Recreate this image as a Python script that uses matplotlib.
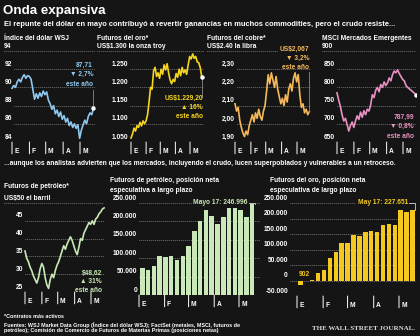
import numpy as np
import matplotlib
matplotlib.use("Agg")
import matplotlib.pyplot as plt

plt.rcParams.update({"font.family": ["Liberation Sans", "DejaVu Sans"],
                     "font.weight": "bold", "axes.unicode_minus": False})

W, H = 420, 336
BG = "#151515"
GRID = "#b5b5b5"
END_DAY = 145
MONTH_DAYS = [0, 31, 60, 91, 121]
MONTHS = ["E", "F", "M", "A", "M"]
FS = 4.8

# --- series ---
dollar = [89.9, 90.2, 90.0, 90.6, 90.9, 90.6, 91.1, 91.4, 91.0, 91.3, 91.2, 90.9,
          89.8, 88.7, 89.3, 88.8, 89.4, 89.0, 89.6, 89.2,
          89.5, 88.6, 88.2, 87.6, 88.0, 87.1, 87.5, 86.8, 87.3, 86.5,
          86.9, 86.2, 86.6, 85.8, 86.2, 85.6, 86.0, 85.5, 85.9, 84.4,
          85.3, 85.9, 86.4, 86.0, 86.8, 87.2, 87.0, 87.71]
gold = [1061, 1072, 1088, 1080, 1095, 1090, 1104, 1094, 1108, 1100, 1108, 1125,
        1160, 1200, 1195, 1245, 1255, 1230, 1240, 1225,
        1250, 1236, 1262, 1248, 1265, 1240, 1220, 1210, 1222, 1216,
        1238, 1228, 1250, 1232, 1255, 1240, 1248, 1236, 1262, 1285,
        1278, 1292, 1280, 1285, 1270, 1268, 1255, 1229.2]
copper = [2.11, 2.07, 2.09, 2.02, 1.98, 1.95, 1.93, 1.96, 1.94, 1.99, 2.02, 2.05,
          2.01, 2.06, 2.03, 2.08, 2.04, 2.02, 2.07, 2.10,
          2.18, 2.27, 2.22, 2.28, 2.24, 2.20, 2.26, 2.19, 2.15, 2.11,
          2.14, 2.10, 2.16, 2.12, 2.19, 2.22, 2.18, 2.25, 2.28, 2.23,
          2.27, 2.16, 2.09, 2.11, 2.06, 2.08, 2.05, 2.067]
msci = [785, 765, 748, 725, 708, 715, 698, 680, 695, 705, 690, 708,
        722, 712, 732, 718, 736, 725, 740, 735,
        752, 780, 772, 792, 800, 788, 808, 800, 815, 805,
        812, 826, 818, 835, 845, 840, 848, 838, 830, 822,
        818, 805, 800, 796, 792, 788, 784, 780]
oil = [36.5, 34.5, 33.5, 32.0, 31.0, 29.5, 28.5, 27.5, 29.0, 31.5, 33.0, 32.0,
       29.0, 27.0, 26.0, 28.5, 30.0, 29.0, 31.0, 32.5,
       33.5, 35.0, 36.5, 38.0, 37.0, 38.5, 39.5, 40.5, 39.5, 38.0,
       36.5, 35.5, 37.5, 40.0, 39.5, 41.5, 42.5, 43.5, 44.5, 44.0,
       45.0, 44.0, 45.5, 46.0, 47.0, 47.5, 48.3, 48.62]

week_days = [4 + 7 * i for i in range(20)]  # Jan 5 ... May 17
oil_pos = [74500, 68000, 79000, 107000, 103000, 107000, 96000, 107000, 132000, 173000,
           200000, 230000, 216000, 193000, 212000, 241000, 244000, 232000, 212000, 246996]
gold_pos = [-14000, -3000, 902, 24000, 35000, 73000, 92000, 120000, 121000, 146000,
            143000, 158000, 161000, 158000, 180000, 183000, 180000, 228000, 222000, 227651]

fig = plt.figure(figsize=(W / 100, H / 100), dpi=100, facecolor=BG)


def ftext(x, y, s, **kw):
    kw.setdefault("color", "white")
    kw.setdefault("fontsize", FS)
    kw.setdefault("va", "center")
    return fig.text(x / W, 1 - y / H, s, **kw)


def panel(L, R, ytop, ybot, vmin, vmax, xE, xM):
    ax = fig.add_axes([L / W, 1 - ybot / H, (R - L) / W, (ybot - ytop) / H])
    s = (xM - xE) / 121
    ax.set_xlim((L - xE) / s, (R - xE) / s)
    ax.set_ylim(vmin, vmax)
    ax.axis("off")
    ax.patch.set_alpha(0)
    return ax, s


def grid_and_labels(ax, s, L, xE, label_right, vals, labels, top_label):
    x_left, x_right = ax.get_xlim()
    x_lab = (label_right + 2 - xE) / s
    for i, (v, lab) in enumerate(zip(vals, labels)):
        top = i == len(vals) - 1
        ax.hlines(v, x_left if top else x_lab, x_right, color=GRID, lw=0.6,
                  linestyles=(0, (0.8, 1.6)))
        if top:
            continue
        ax.annotate(lab, xy=((label_right - xE) / s, v), xytext=(0, 1.0),
                    textcoords="offset points", ha="right", va="bottom",
                    color="white", fontsize=FS, annotation_clip=False)
    ax.annotate(top_label, xy=((L - xE) / s, vals[-1]), xytext=(0, 1.0),
                textcoords="offset points", ha="left", va="bottom", color="white",
                fontsize=FS, annotation_clip=False,
                bbox=dict(boxstyle="square,pad=0.25", fc=BG, ec="none"))


def months(ax, vmin):
    for d, m in zip(MONTH_DAYS, MONTHS):
        ax.annotate("", xy=(d, vmin), xytext=(0, -8.5), textcoords="offset points",
                    arrowprops=dict(arrowstyle="-", color="white", lw=0.7,
                                    shrinkA=0, shrinkB=0), annotation_clip=False)
        ax.annotate(m, xy=(d, vmin), xytext=(1.6, -6.9), textcoords="offset points",
                    ha="left", va="center", color="white", fontsize=FS,
                    annotation_clip=False)


def line_panel(vals, color, L, R, ytop, ybot, ticks, labels, top_label, xE, xM, label_right):
    ax, s = panel(L, R, ytop, ybot, ticks[0], ticks[-1], xE, xM)
    grid_and_labels(ax, s, L, xE, label_right, ticks, labels, top_label)
    days = np.linspace(0, END_DAY, len(vals))
    ax.plot(days, vals, color=color, lw=1.2, solid_joinstyle="round", clip_on=False)
    months(ax, ticks[0])
    return ax, days


# ---------- titles ----------
ftext(3, 11, "Onda expansiva", fontsize=9.6)
ftext(4, 24.5, "El repunte del dólar en mayo contribuyó a revertir ganancias en muchos "
      "commodities, pero el crudo resiste...", fontsize=5.45)

# ---------- top row ----------
TOP, BOT = 51, 142

ftext(4, 38, "Índice del dólar WSJ")
ax, days = line_panel(dollar, "#8ec9ef", 4, 95, TOP, BOT, [84, 86, 88, 90, 92, 94],
                      ["84", "86", "88", "90", "92", "94"], "94", 12, 80, 12)
ax.plot([days[-1]] * 2, [dollar[-1], 89.7], color="#8a8a8a", lw=0.6)
ax.plot(days[-1], dollar[-1], "o", ms=2.2, color="white", zorder=5)
ftext(93, 65, "87,71", color="#8ec9ef", ha="right")
ftext(93, 74.5, "▼ 2,7%", color="#8ec9ef", ha="right")
ftext(93, 84, "este año", color="#8ec9ef", ha="right")

ftext(97, 38, "Futuros del oro*")
ax, days = line_panel(gold, "#f7d51d", 97, 204, TOP, BOT,
                      [1050, 1100, 1150, 1200, 1250, 1300],
                      ["1.050", "1.100", "1.150", "1.200", "1.250", "1.300"],
                      "US$1.300 la onza troy", 131, 190, 128)
ax.plot([days[-1]] * 2, [gold[-1], 1175], color="#8a8a8a", lw=0.6)
ax.plot(days[-1], gold[-1], "o", ms=2.2, color="white", zorder=5)
ftext(203, 98, "US$1.229,20", color="#f7d51d", ha="right")
ftext(203, 107.5, "▲ 16%", color="#f7d51d", ha="right")
ftext(203, 117, "este año", color="#f7d51d", ha="right")

ftext(207, 38, "Futuros del cobre*")
ax, days = line_panel(copper, "#f5b95c", 207, 311, TOP, BOT,
                      [1.9, 2.0, 2.1, 2.2, 2.3, 2.4],
                      ["1,90", "2,00", "2,10", "2,20", "2,30", "2,40"],
                      "US$2.40 la libra", 235, 297, 235)
ax.plot([days[-1]] * 2, [copper[-1], 2.285], color="#8a8a8a", lw=0.6)
ftext(309, 49, "US$2,067", color="#f5b95c", ha="right",
      bbox=dict(boxstyle="square,pad=0.25", fc=BG, ec="none"))
ftext(309, 58, "▼ 3,2%", color="#f5b95c", ha="right")
ftext(309, 67.5, "este año", color="#f5b95c", ha="right")

ftext(322, 38, "MSCI Mercados Emergentes")
ax, days = line_panel(msci, "#e891c2", 322, 416, TOP, BOT,
                      [650, 700, 750, 800, 850, 900],
                      ["650", "700", "750", "800", "850", "900"], "900", 337, 403, 335)
ax.plot([days[-1]] * 2, [msci[-1], 730], color="#8a8a8a", lw=0.6)
ax.plot(days[-1], msci[-1], "o", ms=2.2, color="white", zorder=5)
ftext(414, 117, "787,99", color="#e891c2", ha="right")
ftext(414, 126.5, "▼ 0,8%", color="#e891c2", ha="right")
ftext(414, 136, "este año", color="#e891c2", ha="right")

ftext(4, 163, "...aunque los analistas advierten que los mercados, incluyendo el crudo, "
      "lucen superpoblados y vulnerables a un retroceso.", fontsize=4.8)

# ---------- bottom row ----------
ftext(4, 186, "Futuros de petróleo*")
ax, days = line_panel(oil, "#c9e8b5", 4, 104, 203, 292, [25, 30, 35, 40, 45, 50],
                      ["25", "30", "35", "40", "45", "50"], "US$50 el barril", 25, 91, 23)
ax.plot([days[-1]] * 2, [oil[-1], 35.5], color="#8a8a8a", lw=0.6)
ftext(102, 273, "$48,62", color="#c9e8b5", ha="right")
ftext(102, 281.5, "▲ 31%", color="#c9e8b5", ha="right")
ftext(102, 290, "este año", color="#c9e8b5", ha="right")


def bar_panel(vals, color, L, R, ytop, ybot, ticks, labels, xE, xM, label_right,
              head1, head2, note, note_color):
    ax, s = panel(L, R, ytop, ybot, ticks[0], ticks[-1], xE, xM)
    x_right = ax.get_xlim()[1]
    x_lab = (label_right + 2 - xE) / s
    for v, lab in zip(ticks, labels):
        ax.hlines(v, x_lab, x_right, color=GRID, lw=0.6, linestyles=(0, (0.8, 1.6)))
        ax.annotate(lab, xy=((label_right - xE) / s, v), xytext=(0, 1.0),
                    textcoords="offset points", ha="right", va="bottom",
                    color="white", fontsize=FS, annotation_clip=False)
    ax.bar(week_days, vals, width=5.4, color=color, zorder=3)
    months(ax, ticks[0])
    ftext(L, 181, head1)
    ftext(L, 191, head2)
    # bracket to last bar
    xl = week_days[-1]
    ax.plot([xl - 4.5, xl + 3.2, xl + 3.2], [ticks[-1], ticks[-1], vals[-1]],
            color="#d0d0d0", lw=0.6, clip_on=False, zorder=4)
    ax.annotate(note, xy=(xl - 5.5, ticks[-1]), xytext=(0, 0.2), textcoords="offset points",
                ha="right", va="center", color=note_color, fontsize=FS,
                bbox=dict(boxstyle="square,pad=0.2", fc=BG, ec="none"), zorder=5)
    return ax


ax = bar_panel(oil_pos, "#cbe9b8", 110, 260, 203, 295, [0, 50000, 100000, 150000, 200000, 250000],
               ["0", "50.000", "100.000", "150.000", "200.000", "250.000"], 139, 239, 137,
               "Futuros de petróleo, posición neta", "especulativa a largo plazo",
               "Mayo 17: 246.996", "#cbe9b8")

ax = bar_panel(gold_pos, "#f4c81f", 270, 416, 203, 296,
               [-50000, 0, 50000, 100000, 150000, 200000, 250000],
               ["-50.000", "0", "50.000", "100.000", "150.000", "200.000", "250.000"],
               297, 399, 288, "Futuros del oro, posición neta",
               "especulativa de largo plazo", "May 17: 227.651", "#f4c81f")
ax.annotate("902", xy=(week_days[2], 0), xytext=(-1.5, 4), textcoords="offset points",
            ha="right", va="center", color="#f4c81f", fontsize=FS)

# ---------- footer ----------
ftext(4, 316, "*Contratos más activos", fontsize=3.9)
ftext(4, 324.5, "Fuentes: WSJ Market Data Group (Índice del dólar WSJ); FactSet (metales, MSCI, "
      "futuros de", fontsize=3.9)
ftext(4, 330.5, "petróleo); Comisión de Comercio de Futuros de Materias Primas "
      "(posiciones netas)", fontsize=3.9)
ftext(415, 328, "THE WALL STREET JOURNAL.", fontsize=5.0, ha="right",
      family="Liberation Serif", color="#dddddd")

fig.savefig("out.png", dpi=100, facecolor=BG)
